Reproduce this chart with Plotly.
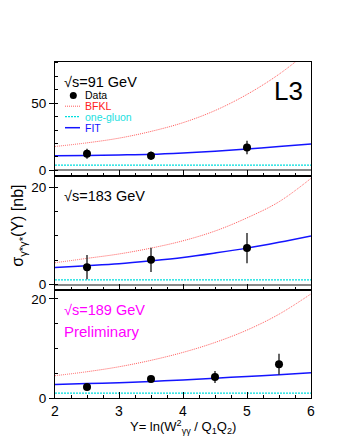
import plotly.graph_objects as go

# data
y_grid = [2.0, 2.5, 3.0, 3.5, 4.0, 4.5, 5.0, 5.5, 6.0]

# sqrt(s) = 91 GeV
y91 = [2.5, 3.5, 5.0]
sig91 = [12.4, 10.9, 17.1]
err91 = [3.8, 3.2, 5.0]
bfkl91 = [17.8, 20.5, 24.0, 29.0, 35.5, 44.5, 56.5, 71.5, 90.0]
fit91 = [10.9, 11.1, 11.5, 12.0, 13.0, 14.3, 16.0, 17.7, 19.6]
gluon91 = [4.0] * len(y_grid)

# sqrt(s) = 183 GeV
y183 = [2.5, 3.5, 5.0]
sig183 = [3.6, 5.1, 7.5]
err183 = [2.5, 2.5, 3.1]
bfkl183 = [4.5, 5.4, 6.3, 7.5, 9.0, 11.0, 13.7, 17.0, 21.8]
fit183 = [3.55, 3.9, 4.3, 4.9, 5.6, 6.5, 7.5, 8.7, 10.0]
gluon183 = [1.0] * len(y_grid)

# sqrt(s) = 189 GeV (preliminary)
y189 = [2.5, 3.5, 4.5, 5.5]
sig189 = [2.2, 3.85, 4.25, 6.8]
err189 = [0.3, 0.3, 1.2, 2.1]
bfkl189 = [4.5, 5.3, 6.3, 7.6, 9.2, 11.2, 13.7, 16.9, 21.0]
fit189 = [2.7, 2.9, 3.1, 3.35, 3.65, 4.0, 4.35, 4.7, 5.1]
gluon189 = [1.0] * len(y_grid)

FONT = "Liberation Sans, Arial, sans-serif"
RED = "#ff5a5a"
CYAN = "#00dede"
BLUE = "#1414ff"
MAGENTA = "#ff00ff"

panels = [
    ("x", "y", y189, sig189, err189, bfkl189, fit189, gluon189),
    ("x2", "y2", y183, sig183, err183, bfkl183, fit183, gluon183),
    ("x3", "y3", y91, sig91, err91, bfkl91, fit91, gluon91),
]

fig = go.Figure()
for xa, ya, yd, sd, ed, bf, ft, gl in panels:
    fig.add_trace(go.Scatter(x=y_grid, y=bf, xaxis=xa, yaxis=ya, mode="lines",
                             line=dict(color=RED, width=1, dash="1px,1px", shape="spline")))
    fig.add_trace(go.Scatter(x=y_grid, y=gl, xaxis=xa, yaxis=ya, mode="lines",
                             line=dict(color=CYAN, width=1.3, dash="2px,1px")))
    fig.add_trace(go.Scatter(x=y_grid, y=ft, xaxis=xa, yaxis=ya, mode="lines",
                             line=dict(color=BLUE, width=1.5, shape="spline")))
    fig.add_trace(go.Scatter(x=yd, y=sd, xaxis=xa, yaxis=ya, mode="markers",
                             marker=dict(color="black", size=8),
                             error_y=dict(type="data", array=ed, color="#333333",
                                          thickness=1.5, width=0)))

xcommon = dict(range=[2, 6], showline=True, mirror=True, linecolor="black", linewidth=1.2,
               ticks="inside", ticklen=6, tickcolor="black", dtick=1, tick0=2,
               minor=dict(ticks="inside", ticklen=3, dtick=0.25, tick0=2, tickcolor="black"),
               showgrid=False, zeroline=False, tickfont=dict(size=14, color="black"))
ycommon = dict(showline=True, mirror=True, linecolor="black", linewidth=1.2,
               ticks="outside", ticklen=5, tickcolor="black", showgrid=False,
               tickfont=dict(size=13.5, color="black"), zerolinecolor="#888888", zerolinewidth=2)


# page pixel -> paper helpers (plot area 55..311 x, 62..398.3 y on the page)
def px(x):
    return (x - 55) / 256


def py(y):
    return (398.3 - y) / 336


# the page body keeps an 8px margin, so the figure is drawn 8px in from the corner
fig.update_layout(
    width=329, height=430,
    margin=dict(l=47, r=26, t=54, b=40),
    paper_bgcolor="white", plot_bgcolor="white",
    showlegend=False,
    font=dict(family=FONT, color="black"),
    xaxis=dict(xcommon, anchor="y"),
    xaxis2=dict(xcommon, anchor="y2", matches="x", showticklabels=False),
    xaxis3=dict(xcommon, anchor="y3", matches="x", showticklabels=False),
    yaxis=dict(ycommon, domain=[0, 0.3202], range=[0, 21.7], tickvals=[0, 20],
               minor=dict(ticks="inside", ticklen=3, dtick=5, tick0=0, tickcolor="black"),
               zeroline=False),
    yaxis2=dict(ycommon, domain=[0.3202, 0.6595], range=[-1.17, 22.2], tickvals=[0, 20],
                minor=dict(ticks="inside", ticklen=3, dtick=5, tick0=0, tickcolor="black"),
                zeroline=True),
    yaxis3=dict(ycommon, domain=[0.6595, 1], range=[-4.45, 80.6], tickvals=[0, 50],
                minor=dict(ticks="inside", ticklen=3, dtick=10, tick0=0, tickcolor="black"),
                zeroline=True),
)

ann = [
    dict(text="√s=91 GeV", x=px(62), y=py(82), xanchor="left", font=dict(size=14.5)),
    dict(text="L3", x=px(288), y=py(91), xanchor="center", font=dict(size=26)),
    dict(text="Data", x=px(83), y=py(95.7), xanchor="left", font=dict(size=10.5)),
    dict(text="BFKL", x=px(83), y=py(106.5), xanchor="left", font=dict(size=10.5, color="#ff2020")),
    dict(text="one-gluon", x=px(83), y=py(117), xanchor="left", font=dict(size=10.5, color="#22e0e0")),
    dict(text="FIT", x=px(83), y=py(128), xanchor="left", font=dict(size=10.5, color=BLUE)),
    dict(text="√s=183 GeV", x=px(62), y=py(196), xanchor="left", font=dict(size=14.5)),
    dict(text="√s=189 GeV", x=px(62), y=py(310), xanchor="left", font=dict(size=14.5, color=MAGENTA)),
    dict(text="Preliminary", x=px(62), y=py(331.7), xanchor="left", font=dict(size=15, color=MAGENTA)),
    dict(text="σ<sub>γ*γ*</sub>(Y) [nb]", x=px(19), y=py(226), textangle=-90,
         xanchor="center", font=dict(size=16)),
    dict(text="Y= ln(W<sup>2</sup><sub>γγ</sub> / Q<sub>1</sub>Q<sub>2</sub>)", x=px(183), y=py(427),
         xanchor="center", font=dict(size=13)),
]
for a in ann:
    fig.add_annotation(xref="paper", yref="paper", showarrow=False, yanchor="middle", **a)

# hand-drawn legend samples inside the top panel
fig.add_shape(type="circle", xref="paper", yref="paper", x0=px(69.8), x1=px(76.8),
              y0=py(99.2), y1=py(92.2), fillcolor="black", line=dict(color="black", width=0))
for yy, col, dash, w in [(106.5, RED, "1px,1px", 1), (117, CYAN, "2px,1px", 1.3),
                         (128, BLUE, "solid", 1.5)]:
    fig.add_shape(type="line", xref="paper", yref="paper", x0=px(65), x1=px(80), y0=py(yy), y1=py(yy),
                  line=dict(color=col, width=w, dash=dash))

fig.write_html("out.html")
